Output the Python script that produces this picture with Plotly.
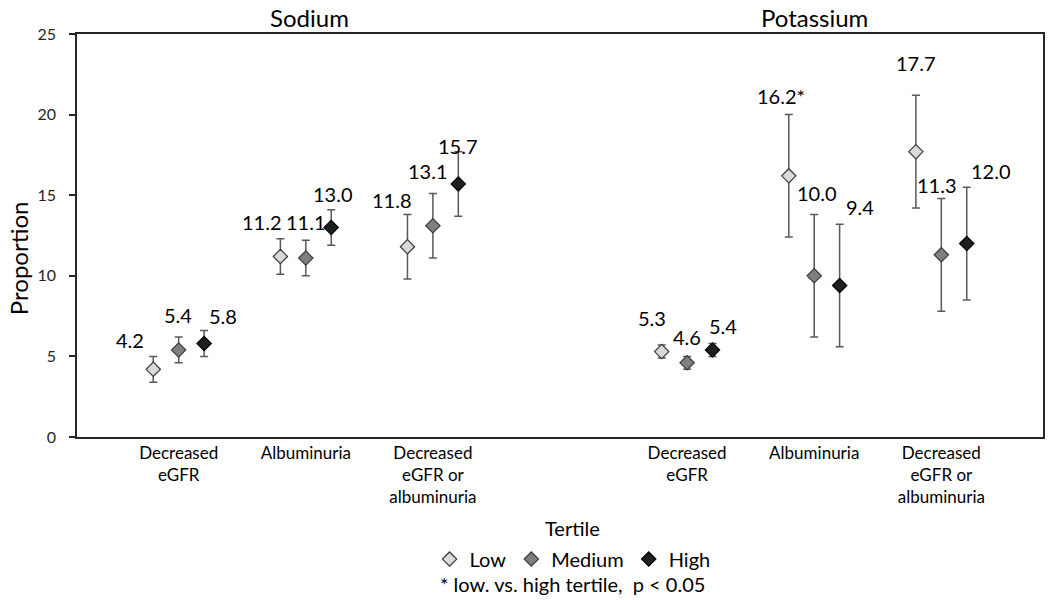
import plotly.graph_objects as go

# ---------------- data ----------------
categories = ["Decreased<br>eGFR", "Albuminuria", "Decreased<br>eGFR or<br>albuminuria"]
nutrients = ["Sodium", "Potassium"]
tertiles = ["Low", "Medium", "High"]

sodium_low = [4.2, 11.2, 11.8]
sodium_medium = [5.4, 11.1, 13.1]
sodium_high = [5.8, 13.0, 15.7]
sodium_low_err = [0.8, 1.1, 2.0]
sodium_medium_err = [0.8, 1.1, 2.0]
sodium_high_err = [0.8, 1.1, 2.0]

potassium_low = [5.3, 16.2, 17.7]
potassium_medium = [4.6, 10.0, 11.3]
potassium_high = [5.4, 9.4, 12.0]
potassium_low_err = [0.4, 3.8, 3.5]
potassium_medium_err = [0.4, 3.8, 3.5]
potassium_high_err = [0.4, 3.8, 3.5]

# significance (low vs high tertile, p < 0.05)
sodium_sig = [False, False, False]
potassium_sig = [False, True, False]

y_ticks = [0, 5, 10, 15, 20, 25]

# ---------------- styles ----------------
FONT = "Lato, 'Liberation Sans', sans-serif"
fill_colors = {"Low": "#D9D9D9", "Medium": "#7F7F7F", "High": "#1F1F1F"}
edge_colors = {"Low": "#3A3A3A", "Medium": "#3A3A3A", "High": "#000000"}
tertile_offset = {"Low": -0.2, "Medium": 0.0, "High": 0.2}
group_base = {"Sodium": 0, "Potassium": 4}
header_shift = {"Sodium": 4, "Potassium": 0}

# label offsets in pixels (dx, dy up) per nutrient/tertile/category
label_offsets = {
    "Sodium": {
        "Low": [(-23, 29), (-18, 34), (-15, 47)],
        "Medium": [(-1, 35), (0, 36), (-5, 55)],
        "High": [(19, 28), (2, 33), (0, 38)],
    },
    "Potassium": {
        "Low": [(-10, 34), (-8, 80), (0, 89)],
        "Medium": [(0, 26), (3, 83), (-4, 70)],
        "High": [(10, 24), (20, 78), (24, 73)],
    },
}

values = {
    "Sodium": {"Low": (sodium_low, sodium_low_err),
               "Medium": (sodium_medium, sodium_medium_err),
               "High": (sodium_high, sodium_high_err)},
    "Potassium": {"Low": (potassium_low, potassium_low_err),
                  "Medium": (potassium_medium, potassium_medium_err),
                  "High": (potassium_high, potassium_high_err)},
}
sig = {"Sodium": sodium_sig, "Potassium": potassium_sig}

fig = go.Figure()
annotations = []

for t in tertiles:
    xs, ys, errs = [], [], []
    for n in nutrients:
        vals, e = values[n][t]
        for i, v in enumerate(vals):
            x = group_base[n] + i + tertile_offset[t]
            xs.append(x)
            ys.append(v)
            errs.append(e[i])
            txt = f"{v:.1f}"
            if t == "Low" and sig[n][i]:
                txt += "*"
            dx, dy = label_offsets[n][t][i]
            annotations.append(dict(
                x=x, y=v, xref="x", yref="y", text=txt, showarrow=False,
                xshift=dx, yshift=dy, font=dict(size=20, color="#000000", family=FONT),
                xanchor="center", yanchor="middle"))
        xs.append(None); ys.append(None); errs.append(None)
    fig.add_trace(go.Scatter(
        x=xs, y=ys, mode="markers", name=t,
        marker=dict(symbol="diamond", size=11, color=fill_colors[t],
                    line=dict(color=edge_colors[t], width=1.2)),
        error_y=dict(type="data", array=errs, visible=True, color="#595959",
                     thickness=1.5, width=4),
        cliponaxis=False,
    ))

# nutrient headers
for n in nutrients:
    annotations.append(dict(
        x=group_base[n] + 1, y=1, xref="x", yref="paper", text=n, showarrow=False,
        yanchor="middle", yshift=17, xshift=header_shift[n],
        font=dict(size=24, color="#000000", family=FONT)))

# y-axis title
annotations.append(dict(
    x=-0.061, y=0.444, xref="paper", yref="paper", text="Proportion", showarrow=False,
    textangle=-90, font=dict(size=24, color="#000000", family=FONT),
    xanchor="center", yanchor="middle"))

# legend title and footnote
annotations.append(dict(
    x=0.513, y=-0.226, xref="paper", yref="paper", text="Tertile", showarrow=False,
    font=dict(size=20, color="#000000", family=FONT), xanchor="center", yanchor="middle"))
annotations.append(dict(
    x=0.513, y=-0.365, xref="paper", yref="paper",
    text="* low. vs. high tertile,  p < 0.05", showarrow=False,
    font=dict(size=20, color="#000000", family=FONT), xanchor="center", yanchor="middle"))

tickvals = [group_base[n] + i for n in nutrients for i in range(len(categories))]
ticktext = categories * len(nutrients)

fig.update_layout(
    width=1050, height=600,
    margin=dict(l=77, r=5, t=34, b=163),
    paper_bgcolor="white", plot_bgcolor="white",
    font=dict(family=FONT, color="#000000"),
    showlegend=True,
    legend=dict(orientation="h", x=0.513, xanchor="center", y=-0.303, yanchor="middle",
                font=dict(size=20, color="#000000", family=FONT),
                itemwidth=30, tracegroupgap=0),
    annotations=annotations,
    xaxis=dict(range=[-0.8, 6.8], tickvals=tickvals, ticktext=ticktext,
               showgrid=False, zeroline=False, showline=True, mirror=True,
               linecolor="#262626", linewidth=1.5, ticks="",
               tickfont=dict(size=17, color="#000000", family=FONT)),
    yaxis=dict(range=[0, 25], tickvals=y_ticks, showgrid=False, zeroline=False,
               showline=True, mirror=True, linecolor="#262626", linewidth=1.5,
               ticks="outside", ticklen=6, tickcolor="#262626", tickwidth=1.5,
               ticklabelstandoff=10,
               tickfont=dict(size=16, color="#262626", family=FONT)),
)

fig.write_html("out.html", config={"displayModeBar": False},
               post_script="document.body.style.margin='0';")
